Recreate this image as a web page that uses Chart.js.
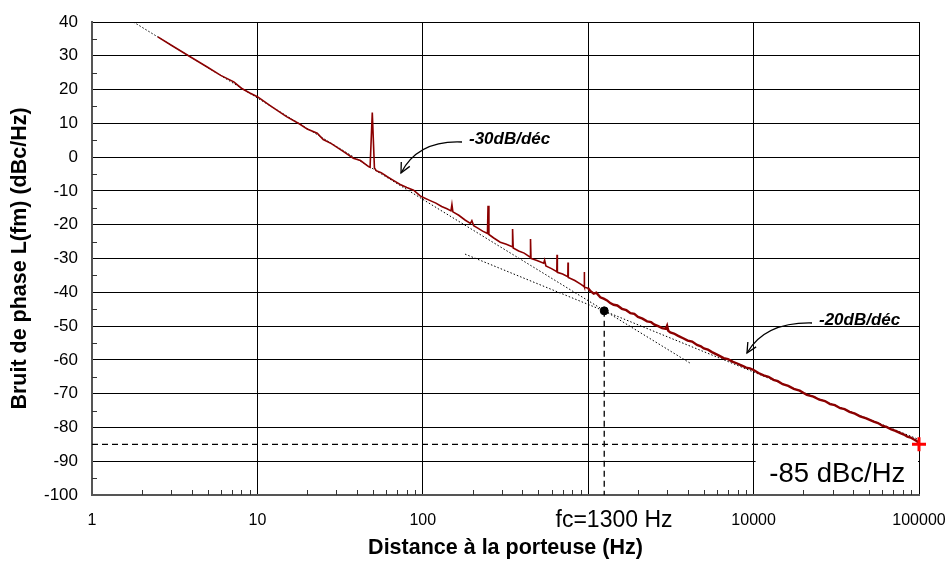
<!DOCTYPE html>
<html>
<head>
<meta charset="utf-8">
<script src="https://cdn.jsdelivr.net/npm/chart.js@4.4.1/dist/chart.umd.min.js"></script>
<style>
  html, body { margin: 0; padding: 0; background: #fff; }
  #wrap { width: 948px; height: 567px; }
</style>
</head>
<body>
<div id="wrap"><canvas id="bruitChart" width="948" height="567"></canvas></div>
<script>
// Données (fréquence en Hz, bruit en dBc/Hz)
const freqHz = [2.5, 3.0, 3.9, 5.0, 6.0, 7.2, 8.0, 9.0, 10, 12, 15, 18, 20, 23, 25, 28, 33, 38, 42, 47,
  48, 49.5, 51, 52.3, 56, 61, 66, 73, 80, 88, 96, 100, 110, 120, 130, 140, 148, 150, 152, 165,
  180, 194, 198, 203, 215, 230, 246, 248, 251, 270, 294, 320, 347, 349, 352, 380, 410, 446, 448, 451,
  490, 538, 545, 555, 600, 646, 648, 651, 700, 753, 755, 758, 830, 900, 945, 947, 950, 1000,
  1030, 1080, 1120, 1183, 1240, 1300, 1360, 1425, 1500, 1600, 1700, 1800, 1900, 2000, 2130, 2270, 2400, 2500,
  2650, 2800, 2950, 3000, 3050, 3136, 3300, 3500, 3750, 4000, 4250, 4550, 4800, 5000, 5300, 5600, 6100, 6590,
  7000, 7500, 7900, 8300, 8700, 9000, 9500, 10000, 10700, 11500, 12300, 13200, 14000, 15000, 16200, 17500,
  19000, 21000, 23000, 25000, 27000, 29000, 31000, 33400, 35500, 38000, 41000, 44000, 48000, 53200, 56500,
  60000, 64000, 68000, 72000, 77100, 81000, 85000, 89000, 92700, 96000, 100000];
const bruitDb = [35.6, 33.2, 29.8, 26.6, 24.2, 22.3, 20.4, 19.0, 17.9, 15.2, 12.0, 9.8, 8.3, 7.1, 5.2, 4.0, 1.7, -0.3, -1.0, -2.8,
  -3.0, 13.2, -3.2, -4.0, -4.6, -5.8, -6.8, -8.1, -9.0, -9.8, -11.4, -11.9, -12.8, -13.6, -14.6, -15.3, -15.9, -14.0, -16.2, -17.2,
  -18.6, -19.6, -18.8, -20.3, -21.0, -21.9, -22.6, -14.4, -22.9, -24.0, -25.2, -25.8, -26.5, -21.3, -26.9, -27.8, -28.4, -29.6, -24.2, -30.0,
  -30.6, -31.4, -30.5, -32.2, -33.0, -33.9, -28.9, -34.1, -34.6, -35.4, -31.2, -35.6, -36.5, -37.6, -38.3, -34.0, -38.5, -38.8,
  -39.6, -40.4, -40.1, -41.5, -41.9, -42.4, -43.2, -43.7, -43.9, -44.9, -45.3, -46.2, -46.4, -47.3, -47.8, -48.6, -48.8, -49.5,
  -50.0, -50.6, -50.8, -49.9, -51.4, -51.9, -52.2, -52.9, -53.6, -54.3, -54.6, -55.6, -56.0, -56.6, -57.0, -57.7, -58.6, -59.5,
  -59.8, -60.6, -61.0, -61.5, -61.9, -62.3, -62.5, -63.0, -63.9, -64.6, -65.0, -65.9, -66.3, -67.2, -67.7, -68.6,
  -69.1, -70.4, -70.9, -71.8, -72.2, -73.1, -73.4, -74.3, -74.6, -75.4, -75.9, -76.7, -77.3, -78.3, -78.7,
  -79.5, -79.9, -80.6, -81.0, -81.7, -82.1, -82.7, -83.0, -83.5, -83.9, -84.6];

// Asymptotes -30 dB/déc et -20 dB/déc (extrémités lues)
const pente30Hz = [1.78, 4140];
const pente30Db = [40, -61];
const pente20Hz = [180, 100000];
const pente20Db = [-28.7, -83.6];

// Point de coupure fc et niveau final
const fcHz = 1250;
const fcDb = -45.5;
const niveauFinalDb = -85;
const finHz = 100000;

// Axes
const xTickValues = [1, 10, 100, 1000, 10000, 100000];
const xTickLabels = ["1", "10", "100", "", "10000", "100000"];
const fcLabel = "fc=1300 Hz";
const niveauLabel = "-85 dBc/Hz";

const police = 'Arial, "Liberation Sans", sans-serif';

function pts(xs, ys) {
  return xs.map((x, i) => ({ x: x, y: ys[i] }));
}

// Petites graduations, boîte -85 dBc/Hz, étiquette fc, flèches
const decorPlugin = {
  id: "decor",
  beforeDatasetsDraw(chart) {
    const c = chart.ctx;
    const xs = chart.scales.x, ys = chart.scales.y;
    const a = chart.chartArea;
    const bx = xs.getPixelForValue(10000);
    const by = ys.getPixelForValue(-88.5);
    c.save();
    // boîte blanche en bas à droite
    c.fillStyle = "#fff";
    c.fillRect(bx + 2, by, a.right - bx - 3, a.bottom - by - 1);
    c.fillStyle = "#000";
    c.font = "27.5px " + police;
    c.textAlign = "center";
    c.textBaseline = "alphabetic";
    c.fillText(niveauLabel, (bx + a.right) / 2 + 1, 482);
    // graduations mineures
    c.strokeStyle = "#333";
    c.lineWidth = 1;
    c.beginPath();
    for (let d = 1; d < 100000; d *= 10) {
      for (let k = 2; k <= 9; k++) {
        const px = Math.round(xs.getPixelForValue(d * k)) + 0.5;
        c.moveTo(px, a.bottom);
        c.lineTo(px, a.bottom - 5);
      }
    }
    for (let v = -95; v < 40; v += 10) {
      const py = Math.round(ys.getPixelForValue(v)) + 0.5;
      c.moveTo(a.left, py);
      c.lineTo(a.left + 5, py);
    }
    c.stroke();
    c.restore();
  },
  afterDraw(chart) {
    const c = chart.ctx;
    const xs = chart.scales.x;
    c.save();
    c.fillStyle = "#000";
    c.font = "23px " + police;
    c.textAlign = "center";
    c.textBaseline = "middle";
    c.fillText(fcLabel, xs.getPixelForValue(1300) + 7, 521);

    c.font = "italic bold 17px " + police;
    c.textAlign = "left";
    c.textBaseline = "alphabetic";
    c.fillText("-30dB/déc", 469, 144);
    c.fillText("-20dB/déc", 819, 325);

    fleche(c, 462, 142, 418, 140, 401, 173);
    fleche(c, 812, 323, 765, 322, 747, 353);
    c.restore();
  }
};

function fleche(c, x0, y0, cx, cy, x1, y1) {
  c.strokeStyle = "#000";
  c.lineWidth = 1.3;
  c.beginPath();
  c.moveTo(x0, y0);
  c.quadraticCurveTo(cx, cy, x1, y1);
  c.stroke();
  const ang = Math.atan2(y1 - cy, x1 - cx);
  c.beginPath();
  c.moveTo(x1 - 11 * Math.cos(ang - 0.45), y1 - 11 * Math.sin(ang - 0.45));
  c.lineTo(x1, y1);
  c.lineTo(x1 - 11 * Math.cos(ang + 0.45), y1 - 11 * Math.sin(ang + 0.45));
  c.stroke();
}

const ctx = document.getElementById("bruitChart").getContext("2d");

new Chart(ctx, {
  type: "line",
  data: {
    datasets: [
      {
        // marqueur rouge à 100 kHz
        data: [{ x: finHz, y: niveauFinalDb }],
        showLine: false,
        pointStyle: "cross",
        pointRadius: 7,
        pointBorderWidth: 3,
        borderColor: "#ff0000",
        backgroundColor: "#ff0000",
        clip: false,
        order: 0
      },
      {
        data: [{ x: fcHz, y: fcDb }],
        showLine: false,
        pointRadius: 4,
        backgroundColor: "#000",
        borderColor: "#000",
        order: 1
      },
      {
        data: pts(freqHz, bruitDb),
        borderColor: "#8b0000",
        borderWidth: 1.6,
        pointRadius: 0,
        tension: 0,
        segment: {
          borderWidth: c => (c.p0.parsed.x >= 1000 ? 2.4 : 1.6)
        },
        order: 2
      },
      {
        data: [{ x: fcHz, y: fcDb }, { x: fcHz, y: -100 }],
        borderColor: "#000",
        borderWidth: 1.3,
        borderDash: [6, 4],
        pointRadius: 0,
        order: 3
      },
      {
        data: [{ x: 1, y: niveauFinalDb }, { x: finHz, y: niveauFinalDb }],
        borderColor: "#000",
        borderWidth: 1.3,
        borderDash: [6, 4],
        pointRadius: 0,
        order: 3
      },
      {
        data: pts(pente30Hz, pente30Db),
        borderColor: "#000",
        borderWidth: 1,
        borderDash: [1.5, 2],
        pointRadius: 0,
        order: 4
      },
      {
        data: pts(pente20Hz, pente20Db),
        borderColor: "#000",
        borderWidth: 1,
        borderDash: [1.5, 2],
        pointRadius: 0,
        order: 4
      }
    ]
  },
  options: {
    responsive: false,
    animation: false,
    events: [],
    layout: { padding: { left: 0, top: 22, right: 29, bottom: 0 } },
    plugins: {
      legend: { display: false },
      tooltip: { enabled: false }
    },
    scales: {
      x: {
        type: "logarithmic",
        min: 1,
        max: 100000,
        afterBuildTicks: s => { s.ticks = xTickValues.map(v => ({ value: v })); },
        afterFit: s => { s.height = 72; s.paddingLeft = 0; s.paddingRight = 0; },
        ticks: {
          autoSkip: false,
          maxRotation: 0,
          padding: 16,
          color: "#000",
          font: { family: police, size: 16 },
          callback: (v, i) => xTickLabels[i]
        },
        grid: { color: "#000", lineWidth: 1, drawTicks: false },
        border: { color: "#555", width: 2 },
        title: {
          display: true,
          text: "Distance à la porteuse (Hz)",
          color: "#000",
          font: { family: police, size: 21.5, weight: "bold" },
          padding: { top: 0, bottom: 6 }
        }
      },
      y: {
        min: -100,
        max: 40,
        afterFit: s => { s.width = 92; s.paddingTop = 0; s.paddingBottom = 0; },
        ticks: {
          stepSize: 10,
          padding: 14,
          color: "#000",
          font: { family: police, size: 17 }
        },
        grid: { color: "#000", lineWidth: 1, drawTicks: false },
        border: { color: "#555", width: 2 },
        title: {
          display: true,
          text: "Bruit de phase L(fm) (dBc/Hz)",
          color: "#000",
          font: { family: police, size: 21.5, weight: "bold" },
          padding: { top: 7, bottom: 0 }
        }
      }
    }
  },
  plugins: [decorPlugin]
});
</script>
</body>
</html>
